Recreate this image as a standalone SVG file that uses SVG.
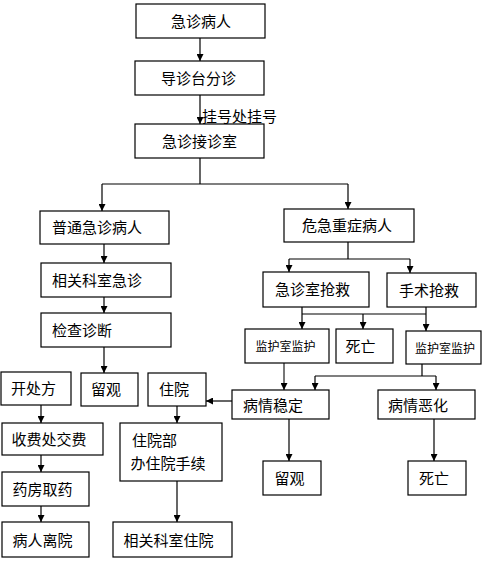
<svg xmlns="http://www.w3.org/2000/svg" width="493" height="566" viewBox="0 0 493 566">
<style>
.b{fill:#fff;stroke:#000;stroke-width:1.2}
.t{font-family:"Noto Sans CJK SC","Liberation Sans",sans-serif;font-size:15px;fill:#000}
.s{font-size:12px}
.c{fill:none;stroke:#000;stroke-width:1.2}
.g{stroke:#555;stroke-width:1.6}
</style>
<defs>
<marker id="a" markerUnits="userSpaceOnUse" markerWidth="7" markerHeight="7" refX="7" refY="3.5" orient="auto"><path d="M0,0L7,3.5L0,7z" fill="#000"/></marker>
</defs>
<rect width="493" height="566" fill="#fff"/>
<g id="connectors">
<path class="c" d="M200,38V61" marker-end="url(#a)"/>
<path class="c" d="M200,95V124" marker-end="url(#a)"/>
<path class="c" d="M200,158V184M102,184H348"/>
<path class="c" d="M102,184V211" marker-end="url(#a)"/>
<path class="c" d="M348,184V209" marker-end="url(#a)"/>
<path class="c" d="M104,244V263" marker-end="url(#a)"/>
<path class="c" d="M104,297V313" marker-end="url(#a)"/>
<path class="c" d="M104,347V373" marker-end="url(#a)"/>
<path class="c" d="M348,242V259M289,259H410"/>
<path class="c" d="M289,259V272" marker-end="url(#a)"/>
<path class="c" d="M410,259V273" marker-end="url(#a)"/>
<path class="c" d="M302,307V314M426,307V314M302,314H426"/>
<path class="c" d="M302,314V329" marker-end="url(#a)"/>
<path class="c" d="M363,314V329" marker-end="url(#a)"/>
<path class="c" d="M426,314V331" marker-end="url(#a)"/>
<path class="c g" d="M284,363V390" marker-end="url(#a)"/>
<path class="c" d="M422,364V376M315,376H436"/>
<path class="c" d="M315,376V390" marker-end="url(#a)"/>
<path class="c" d="M436,376V390" marker-end="url(#a)"/>
<path class="c" d="M232,401H206" marker-end="url(#a)"/>
<path class="c" d="M41,405V423" marker-end="url(#a)"/>
<path class="c" d="M41,455V472" marker-end="url(#a)"/>
<path class="c" d="M41,506V522" marker-end="url(#a)"/>
<path class="c" d="M177,406V423" marker-end="url(#a)"/>
<path class="c" d="M177,481V522" marker-end="url(#a)"/>
<path class="c" d="M289,419V461" marker-end="url(#a)"/>
<path class="c" d="M434,419V461" marker-end="url(#a)"/>
<text class="t" x="202" y="122">挂号处挂号</text>
</g>
<g id="n1"><rect class="b" x="136" y="4" width="129" height="34"/><text class="t" x="171" y="26.5">急诊病人</text></g>
<g id="n2"><rect class="b" x="135" y="61" width="129" height="34"/><text class="t" x="161" y="83.5">导诊台分诊</text></g>
<g id="n3"><rect class="b" x="135" y="124" width="129" height="34"/><text class="t" x="162" y="146.5">急诊接诊室</text></g>
<g id="n4"><rect class="b" x="40" y="211" width="129" height="33"/><text class="t" x="52" y="233">普通急诊病人</text></g>
<g id="n5"><rect class="b" x="284" y="209" width="130" height="33"/><text class="t" x="302" y="231">危急重症病人</text></g>
<g id="n6"><rect class="b" x="41" y="263" width="130" height="34"/><text class="t" x="52" y="285.5">相关科室急诊</text></g>
<g id="n7"><rect class="b" x="41" y="313" width="130" height="34"/><text class="t" x="52" y="335.5">检查诊断</text></g>
<g id="n8"><rect class="b" x="263" y="272" width="106" height="35"/><text class="t" x="275" y="294.5">急诊室抢救</text></g>
<g id="n9"><rect class="b" x="387" y="273" width="89" height="34"/><text class="t" x="399" y="295.5">手术抢救</text></g>
<g id="n10"><rect class="b" x="245" y="329" width="84" height="34"/><text class="t s" x="255.5" y="350.5">监护室监护</text></g>
<g id="n11"><rect class="b" x="336" y="329" width="57" height="34"/><text class="t" x="345.5" y="351.5">死亡</text></g>
<g id="n12"><rect class="b" x="406" y="331" width="75" height="33"/><text class="t s" x="415" y="352.5">监护室监护</text></g>
<g id="n13"><rect class="b" x="1" y="372" width="70" height="33"/><text class="t" x="11" y="394">开处方</text></g>
<g id="n14"><rect class="b" x="81" y="373" width="57" height="33"/><text class="t" x="91" y="395">留观</text></g>
<g id="n15"><rect class="b" x="148" y="373" width="58" height="33"/><text class="t" x="159" y="395">住院</text></g>
<g id="n16"><rect class="b" x="232" y="390" width="97" height="29"/><text class="t" x="243" y="410.5">病情稳定</text></g>
<g id="n17"><rect class="b" x="378" y="390" width="97" height="29"/><text class="t" x="388" y="410.5">病情恶化</text></g>
<g id="n18"><rect class="b" x="2" y="423" width="101" height="32"/><text class="t" x="11.5" y="444.5">收费处交费</text></g>
<g id="n19"><rect class="b" x="120" y="423" width="102" height="58"/><text class="t" x="132" y="445.5">住院部</text><text class="t" x="130.5" y="469">办住院手续</text></g>
<g id="n20"><rect class="b" x="2" y="472" width="87" height="34"/><text class="t" x="12.5" y="494.5">药房取药</text></g>
<g id="n21"><rect class="b" x="263" y="461" width="58" height="34"/><text class="t" x="274.5" y="483.5">留观</text></g>
<g id="n22"><rect class="b" x="408" y="461" width="58" height="34"/><text class="t" x="419" y="483.5">死亡</text></g>
<g id="n23"><rect class="b" x="2" y="522" width="87" height="35"/><text class="t" x="12.5" y="545.5">病人离院</text></g>
<g id="n24"><rect class="b" x="113" y="522" width="119" height="35"/><text class="t" x="123.5" y="545.5">相关科室住院</text></g>
</svg>
